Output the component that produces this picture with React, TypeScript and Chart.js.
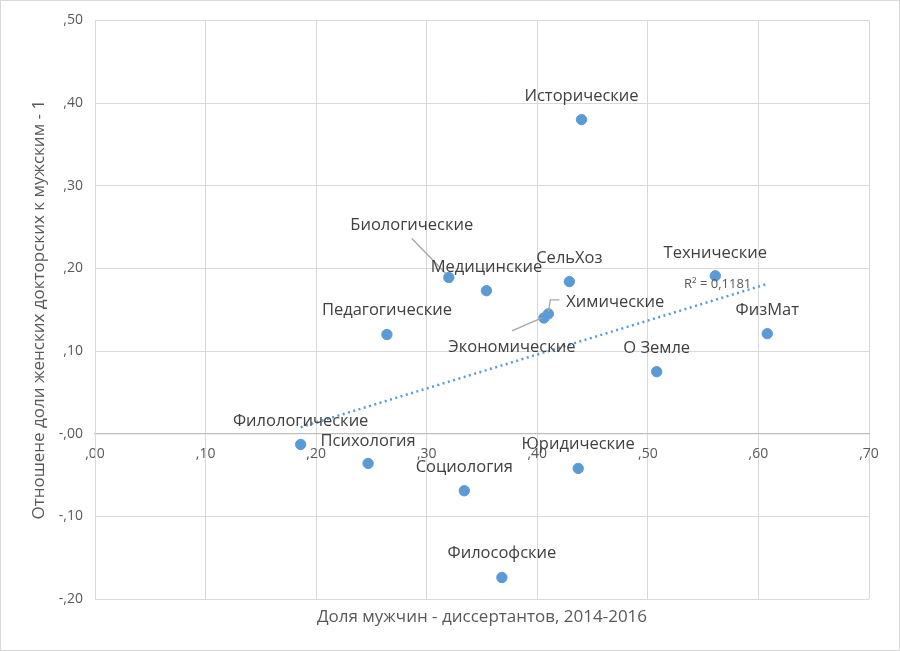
import React, { useEffect, useRef } from 'react';
import Chart from 'chart.js/auto';

// Доля мужчин среди диссертантов (x) и отношение долей женщин/мужчин среди докторов минус 1 (y)
const categories = [
    'Исторические', 'Биологические', 'Медицинские', 'СельХоз', 'Технические',
    'Химические', 'Экономические', 'Педагогические', 'ФизМат', 'О Земле',
    'Филологические', 'Психология', 'Социология', 'Юридические', 'Философские',
];
const maleShare = [0.440, 0.320, 0.354, 0.429, 0.561, 0.410, 0.406, 0.264, 0.608, 0.508, 0.186, 0.247, 0.334, 0.437, 0.368];
const ratioMinusOne = [0.380, 0.189, 0.173, 0.184, 0.191, 0.145, 0.140, 0.120, 0.121, 0.075, -0.013, -0.036, -0.069, -0.042, -0.174];
const rSquaredLabel = 'R² = 0,1181';

// label placement relative to the point, in px: [dx, dy]
const labelOffsets: [number, number][] = [
    [0, -23], [-37, -52], [0, -23], [0, -23], [0, -23],
    [67, -12], [-32, 29], [0, -24], [0, -23], [0, -23],
    [0, -23], [0, -22], [0, -23], [0, -24], [0, -24],
];
// leader lines (polyline relative to point), only for a few labels
const leaders: Record<number, [number, number][]> = {
    1: [[-37, -39], [-3, -4]],
    5: [[0, -2], [2, -14], [11, -14]],
    6: [[-32, 13], [-2, 0]],
};

const BLUE = '#5b9bd5';
const GRID = '#d9d9d9';
const TEXT = '#595959';
const FONT = '"Open Sans", "DejaVu Sans", sans-serif';

const fmt = (v: number) => {
    const s = Math.abs(v).toFixed(2).replace(/^0\./, ',');
    return (v < 0 ? '-' : '') + s;
};

function regression(xs: number[], ys: number[]) {
    const n = xs.length;
    const mx = xs.reduce((a, b) => a + b, 0) / n;
    const my = ys.reduce((a, b) => a + b, 0) / n;
    let sxy = 0, sxx = 0;
    for (let i = 0; i < n; i++) {
        sxy += (xs[i] - mx) * (ys[i] - my);
        sxx += (xs[i] - mx) ** 2;
    }
    const slope = sxy / sxx;
    return { slope, intercept: my - slope * mx };
}

const labelsPlugin = {
    id: 'pointLabels',
    afterDatasetsDraw(chart: any) {
        const { ctx } = chart;
        const meta = chart.getDatasetMeta(1);
        ctx.save();
        ctx.font = `16.5px ${FONT}`;
        ctx.fillStyle = '#404040';
        ctx.textAlign = 'center';
        ctx.textBaseline = 'middle';
        meta.data.forEach((pt: any, i: number) => {
            const [dx, dy] = labelOffsets[i];
            const lead = leaders[i];
            if (lead) {
                ctx.strokeStyle = '#a6a6a6';
                ctx.lineWidth = 1.3;
                ctx.beginPath();
                lead.forEach(([lx, ly], k) => {
                    if (k === 0) ctx.moveTo(pt.x + lx, pt.y + ly);
                    else ctx.lineTo(pt.x + lx, pt.y + ly);
                });
                ctx.stroke();
            }
            ctx.fillText(categories[i], pt.x + dx, pt.y + dy);
        });
        // R² label near the end of the trend line
        const trend = chart.getDatasetMeta(0).data;
        const end = trend[trend.length - 1];
        ctx.font = `13px ${FONT}`;
        ctx.fillStyle = TEXT;
        ctx.textAlign = 'right';
        ctx.fillText(rSquaredLabel, end.x - 16, end.y);
        ctx.restore();
    },
    afterDraw(chart: any) {
        const { ctx } = chart;
        ctx.save();
        ctx.strokeStyle = GRID;
        ctx.lineWidth = 1;
        ctx.strokeRect(0.5, 0.5, chart.width - 1, chart.height - 1);
        ctx.restore();
    },
};

export default function App() {
    const canvasRef = useRef<HTMLCanvasElement>(null);
    const chartRef = useRef<Chart | null>(null);

    useEffect(() => {
        document.body.style.margin = '0';
        if (!canvasRef.current) return;
        if (chartRef.current) chartRef.current.destroy();

        const { slope, intercept } = regression(maleShare, ratioMinusOne);
        const xMin = Math.min(...maleShare);
        const xMax = Math.max(...maleShare);

        chartRef.current = new Chart(canvasRef.current, {
            type: 'scatter',
            data: {
                datasets: [
                    {
                        type: 'line',
                        data: [
                            { x: xMin, y: intercept + slope * xMin },
                            { x: xMax, y: intercept + slope * xMax },
                        ],
                        borderColor: BLUE,
                        borderWidth: 2.5,
                        borderDash: [2, 3.5],
                        pointRadius: 0,
                        fill: false,
                    },
                    {
                        data: maleShare.map((x, i) => ({ x, y: ratioMinusOne[i] })),
                        backgroundColor: BLUE,
                        borderColor: BLUE,
                        pointRadius: 5.2,
                    },
                ],
            },
            plugins: [labelsPlugin],
            options: {
                animation: false,
                responsive: true,
                maintainAspectRatio: false,
                layout: { padding: { left: 0, right: 31, top: 20, bottom: 0 } },
                plugins: {
                    legend: { display: false },
                    tooltip: { enabled: false },
                },
                scales: {
                    x: {
                        type: 'linear',
                        min: 0,
                        max: 0.7,
                        position: { y: 0 },
                        grid: { color: GRID, drawTicks: false },
                        border: { color: '#bfbfbf', width: 1.3 },
                        ticks: {
                            stepSize: 0.1,
                            padding: 12,
                            color: TEXT,
                            font: { size: 14, family: FONT },
                            callback: (v: any) => fmt(Number(v)),
                        },
                    },
                    x2: {
                        type: 'linear',
                        axis: 'x',
                        position: 'bottom',
                        min: 0,
                        max: 0.7,
                        grid: { display: false },
                        border: { display: false },
                        ticks: { display: false },
                        title: {
                            display: true,
                            text: 'Доля мужчин - диссертантов, 2014-2016',
                            color: TEXT,
                            font: { size: 17, family: FONT },
                            padding: { top: 0, bottom: 24 },
                        },
                        afterFit: (s: any) => { s.height = 52; },
                    },
                    y: {
                        type: 'linear',
                        min: -0.2,
                        max: 0.5,
                        grid: { color: GRID, drawTicks: false },
                        border: { color: GRID },
                        ticks: {
                            stepSize: 0.1,
                            padding: 12,
                            color: TEXT,
                            font: { size: 14, family: FONT },
                            callback: (v: any) => fmt(Number(v)),
                        },
                        title: {
                            display: true,
                            text: 'Отношене доли женских докторских к мужским - 1',
                            color: TEXT,
                            font: { size: 17, family: FONT },
                            padding: { top: 29, bottom: 0 },
                        },
                        afterFit: (s: any) => { s.width = 95; },
                    },
                },
            },
        });

        return () => {
            if (chartRef.current) chartRef.current.destroy();
            chartRef.current = null;
        };
    }, []);

    return (
        <div style={{ width: 900, height: 651, position: 'relative', background: '#fff' }}>
            <canvas ref={canvasRef}></canvas>
        </div>
    );
}
